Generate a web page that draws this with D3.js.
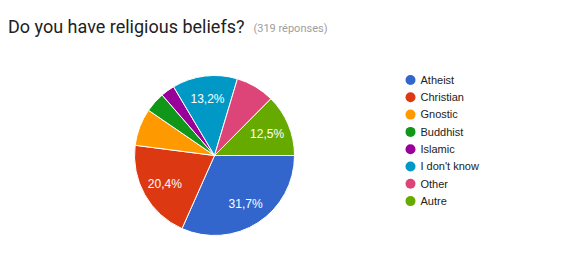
<!DOCTYPE html>
<html><head><meta charset="utf-8">
<script src="https://cdn.jsdelivr.net/npm/d3@7"></script>
<style>body{margin:0;background:#fff;}svg{display:block;}</style>
</head><body>
<script>
const categories = ["Atheist","Christian","Gnostic","Buddhist","Islamic","I don't know","Other","Autre"];
const counts = [101, 65, 24, 13, 9, 42, 25, 40];
const colors = ["#3366cc","#dc3912","#ff9900","#109618","#990099","#0099c6","#dd4477","#66aa00"];
const titleText = "Do you have religious beliefs?";
const subText = "(319 réponses)";

const W = 573, H = 269;
const svg = d3.select("body").append("svg").attr("width", W).attr("height", H);

const title = svg.append("text").attr("x", 8).attr("y", 33)
  .attr("font-family", "Roboto, sans-serif").attr("font-size", 18).attr("fill", "#212121")
  .text(titleText);
const tw = title.node().getComputedTextLength();
svg.append("text").attr("x", 8 + tw + 9).attr("y", 32)
  .attr("font-family", "Roboto, sans-serif").attr("font-size", 11).attr("fill", "#9e9e9e")
  .text(subText);

const cx = 214.5, cy = 155.5, R = 80;
const total = d3.sum(counts);
const pie = d3.pie().sort(null).startAngle(Math.PI/2).endAngle(Math.PI/2 + 2*Math.PI);
const arcs = pie(counts);
const arc = d3.arc().innerRadius(0).outerRadius(R);
const labelArc = d3.arc().innerRadius(57).outerRadius(57);
const g = svg.append("g").attr("transform", `translate(${cx},${cy})`);
g.selectAll("path").data(arcs).join("path")
  .attr("d", arc).attr("fill", (d,i) => colors[i])
  .attr("stroke", "#fff").attr("stroke-width", 1);
g.selectAll("text").data(arcs.filter(d => d.value/total > 0.1)).join("text")
  .attr("transform", d => `translate(${labelArc.centroid(d)})`)
  .attr("text-anchor", "middle").attr("dy", "0.35em")
  .attr("font-family", "'Liberation Sans', Arial, sans-serif").attr("font-size", 12)
  .attr("fill", "#fff")
  .text(d => (d.value/total*100).toFixed(1).replace(".", ",") + "%");

const leg = svg.append("g");
const items = leg.selectAll("g").data(categories).join("g")
  .attr("transform", (d,i) => `translate(410.5,${80 + i*17.3})`);
items.append("circle").attr("r", 5).attr("fill", (d,i) => colors[i]);
items.append("text").attr("x", 10).attr("dy", "0.35em")
  .attr("font-family", "'Liberation Sans', Arial, sans-serif").attr("font-size", 11)
  .attr("fill", "#222").text(d => d);
</script>
</body></html>
